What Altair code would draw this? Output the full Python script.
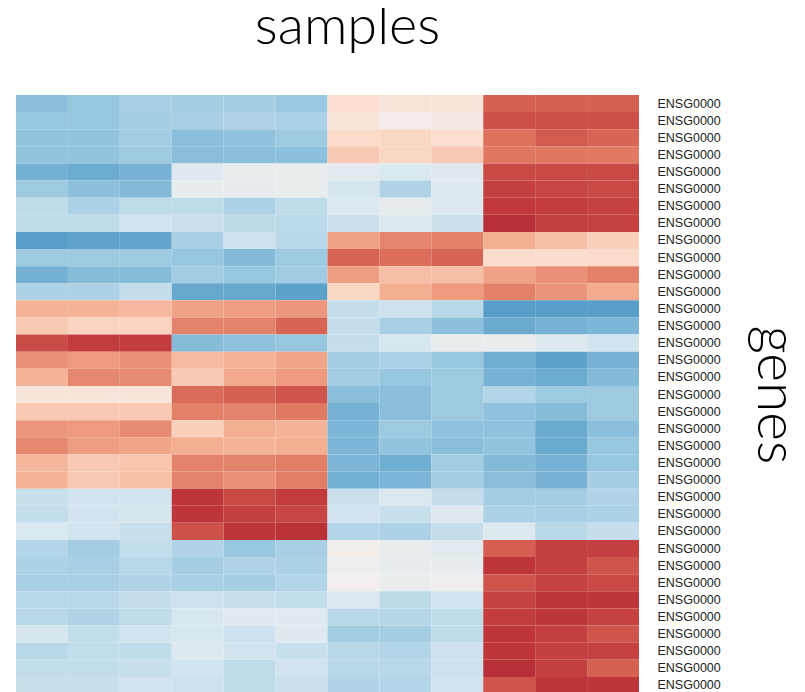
import altair as alt
import pandas as pd

samples = [f"S{i}" for i in range(1, 13)]
genes = [
    "ENSG00000101001", "ENSG00000101002", "ENSG00000101003", "ENSG00000101004",
    "ENSG00000101005", "ENSG00000101006", "ENSG00000101007", "ENSG00000101008",
    "ENSG00000101009", "ENSG00000101010", "ENSG00000101011", "ENSG00000101012",
    "ENSG00000101013", "ENSG00000101014", "ENSG00000101015", "ENSG00000101016",
    "ENSG00000101017", "ENSG00000101018", "ENSG00000101019", "ENSG00000101020",
    "ENSG00000101021", "ENSG00000101022", "ENSG00000101023", "ENSG00000101024",
    "ENSG00000101025", "ENSG00000101026", "ENSG00000101027", "ENSG00000101028",
    "ENSG00000101029", "ENSG00000101030", "ENSG00000101031", "ENSG00000101032",
    "ENSG00000101033", "ENSG00000101034", "ENSG00000101035",
]

block_a = [
    [-0.46, -0.42, -0.36, -0.37, -0.37, -0.41, 0.17, 0.12, 0.12, 0.66, 0.66, 0.66],
    [-0.42, -0.42, -0.37, -0.36, -0.33, -0.35, 0.12, 0.03, 0.06, 0.72, 0.72, 0.72],
    [-0.43, -0.43, -0.38, -0.46, -0.44, -0.40, 0.20, 0.22, 0.17, 0.61, 0.68, 0.65],
    [-0.43, -0.43, -0.40, -0.46, -0.46, -0.45, 0.28, 0.22, 0.28, 0.59, 0.59, 0.58],
    [-0.53, -0.55, -0.52, -0.12, -0.05, -0.05, -0.10, -0.15, -0.12, 0.74, 0.74, 0.74],
    [-0.40, -0.45, -0.48, -0.07, -0.06, -0.05, -0.18, -0.33, -0.13, 0.77, 0.75, 0.74],
    [-0.27, -0.34, -0.27, -0.27, -0.34, -0.27, -0.14, -0.08, -0.13, 0.79, 0.78, 0.76],
    [-0.27, -0.27, -0.20, -0.23, -0.28, -0.29, -0.23, -0.13, -0.23, 0.83, 0.77, 0.76],
]
block_b = [
    [-0.62, -0.59, -0.58, -0.36, -0.22, -0.30, 0.44, 0.54, 0.56, 0.40, 0.33, 0.25],
    [-0.40, -0.40, -0.40, -0.42, -0.48, -0.40, 0.65, 0.62, 0.65, 0.18, 0.18, 0.20],
    [-0.53, -0.47, -0.47, -0.38, -0.42, -0.39, 0.46, 0.33, 0.33, 0.44, 0.50, 0.56],
    [-0.34, -0.34, -0.25, -0.57, -0.57, -0.60, 0.22, 0.40, 0.47, 0.56, 0.49, 0.41],
]
block_c = [
    [0.38, 0.38, 0.35, 0.44, 0.46, 0.48, -0.25, -0.22, -0.30, -0.62, -0.62, -0.62],
    [0.28, 0.23, 0.23, 0.55, 0.55, 0.65, -0.25, -0.36, -0.45, -0.56, -0.52, -0.50],
    [0.73, 0.78, 0.78, -0.47, -0.44, -0.42, -0.25, -0.17, -0.05, -0.05, -0.13, -0.20],
    [0.50, 0.47, 0.50, 0.34, 0.38, 0.43, -0.38, -0.35, -0.42, -0.54, -0.60, -0.52],
    [0.38, 0.53, 0.52, 0.28, 0.42, 0.47, -0.38, -0.42, -0.40, -0.52, -0.55, -0.48],
    [0.10, 0.10, 0.10, 0.63, 0.66, 0.70, -0.46, -0.46, -0.40, -0.32, -0.40, -0.40],
    [0.28, 0.28, 0.28, 0.56, 0.55, 0.58, -0.52, -0.46, -0.40, -0.44, -0.47, -0.40],
    [0.48, 0.47, 0.52, 0.25, 0.40, 0.38, -0.50, -0.40, -0.44, -0.44, -0.56, -0.46],
    [0.53, 0.46, 0.43, 0.40, 0.38, 0.40, -0.50, -0.43, -0.46, -0.43, -0.56, -0.42],
    [0.36, 0.28, 0.30, 0.55, 0.55, 0.57, -0.50, -0.54, -0.38, -0.48, -0.52, -0.42],
    [0.38, 0.28, 0.32, 0.55, 0.50, 0.57, -0.53, -0.50, -0.38, -0.46, -0.52, -0.37],
]
block_d = [
    [-0.24, -0.20, -0.20, 0.80, 0.74, 0.78, -0.23, -0.14, -0.25, -0.38, -0.38, -0.33],
    [-0.26, -0.20, -0.18, 0.80, 0.77, 0.75, -0.20, -0.24, -0.12, -0.34, -0.36, -0.34],
    [-0.15, -0.20, -0.24, 0.71, 0.80, 0.82, -0.32, -0.34, -0.25, -0.13, -0.30, -0.25],
]
block_e = [
    [-0.32, -0.38, -0.26, -0.33, -0.42, -0.36, 0.02, -0.05, -0.10, 0.67, 0.77, 0.77],
    [-0.34, -0.36, -0.30, -0.37, -0.33, -0.34, -0.02, -0.07, -0.07, 0.80, 0.77, 0.70],
    [-0.36, -0.36, -0.33, -0.36, -0.37, -0.32, 0.00, -0.05, -0.02, 0.70, 0.76, 0.74],
    [-0.30, -0.30, -0.25, -0.22, -0.24, -0.26, -0.14, -0.28, -0.20, 0.76, 0.80, 0.80],
    [-0.30, -0.33, -0.27, -0.16, -0.12, -0.12, -0.30, -0.31, -0.27, 0.78, 0.80, 0.76],
    [-0.18, -0.26, -0.20, -0.17, -0.22, -0.12, -0.38, -0.37, -0.27, 0.80, 0.77, 0.70],
    [-0.30, -0.26, -0.27, -0.13, -0.20, -0.24, -0.30, -0.32, -0.22, 0.80, 0.77, 0.76],
    [-0.26, -0.26, -0.24, -0.20, -0.27, -0.20, -0.30, -0.30, -0.22, 0.83, 0.77, 0.66],
    [-0.24, -0.24, -0.20, -0.22, -0.27, -0.23, -0.33, -0.32, -0.20, 0.70, 0.80, 0.80],
]

rows = block_a + block_b + block_c + block_d + block_e
records = []
for g, vals in zip(genes, rows):
    for s, v in zip(samples, vals):
        records.append({"gene": g, "sample": s, "value": v})
df = pd.DataFrame(records)

title_font = "Lato"

chart = (
    alt.Chart(df)
    .mark_rect(strokeWidth=0)
    .encode(
        x=alt.X("sample:N", sort=samples, axis=None,
                scale=alt.Scale(paddingInner=0, paddingOuter=0)),
        y=alt.Y(
            "gene:N",
            sort=genes,
            scale=alt.Scale(paddingInner=0, paddingOuter=0),
            axis=alt.Axis(
                orient="right",
                title="genes",
                titleFont=title_font,
                titleFontSize=55,
                titleFontWeight=300,
                titleColor="#000000",
                titlePadding=25,
                labelFont="Liberation Sans",
                labelFontSize=12.5,
                labelColor="#222222",
                labelPadding=18,
                labelExpr="substring(datum.label, 0, 8)",
                ticks=False,
                domain=False,
            ),
        ),
        color=alt.Color(
            "value:Q",
            scale=alt.Scale(scheme="redblue", reverse=True, domain=[-1, 1]),
            legend=None,
        ),
    )
    .properties(
        width=623,
        height=599,
        title=alt.TitleParams(
            "samples",
            font=title_font,
            fontSize=54,
            fontWeight=300,
            color="#000000",
            dx=20,
            offset=40,
        ),
        autosize=alt.AutoSizeParams(type="none"),
        padding={"left": 8, "top": 87, "right": 156, "bottom": 0},
    )
    .configure_view(stroke=None)
)

chart.save("out.html", embed_options={"renderer": "svg", "actions": False})
